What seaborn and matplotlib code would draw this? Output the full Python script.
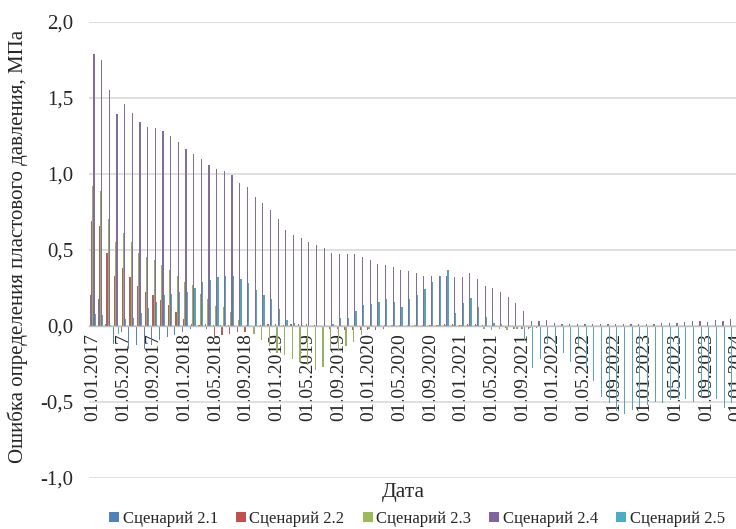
import matplotlib
matplotlib.use("Agg")
import matplotlib.pyplot as plt
from matplotlib.patches import Patch
import numpy as np
import pandas as pd
import seaborn as sns

# Monthly dates, 01.01.2017 .. 01.01.2024
dates = [d.strftime("%d.%m.%Y") for d in pd.date_range("2017-01-01", "2024-01-01", freq="MS")]

scenarios = ["Сценарий 2.1", "Сценарий 2.2", "Сценарий 2.3", "Сценарий 2.4", "Сценарий 2.5"]
colors = ["#4F81BD", "#C0504D", "#9BBB59", "#8064A2", "#4BACC6"]

# Pressure determination error, MPa
s21 = [0.20, 0.18, 0.015, -0.12, -0.04, -0.15, -0.125, -0.15, -0.125, -0.095,
       -0.07, -0.06, -0.04, -0.02, 0.0, 0.015, 0.005, 0.005, 0.003, 0.0,
       0.0, 0.0, 0.0, 0.0, 0.0, 0.0, 0.0, 0.0, 0.0, 0.0,
       0.0, 0.0, 0.0, 0.0, 0.0, 0.0, 0.0, 0.0, 0.0, 0.0,
       0.0, 0.0, 0.0, 0.0, 0.0, 0.0, 0.0, 0.0, 0.0, 0.0,
       0.0, 0.0, 0.0, 0.0, 0.0, 0.0, 0.0, 0.0, 0.0, 0.0,
       0.0, 0.0, 0.0, 0.0, 0.0, 0.0, 0.0, 0.0, 0.0, 0.0,
       0.0, 0.0, 0.0, 0.0, 0.0, 0.0, 0.0, 0.0, 0.0, 0.0,
       0.0, 0.0, 0.0, 0.0, 0.0]
s22 = [0.69, 0.66, 0.48, 0.33, 0.38, 0.32, 0.26, 0.22, 0.20, 0.17,
       0.14, 0.09, 0.045, 0.012, 0.005, -0.02, -0.08, -0.06, -0.05, -0.04,
       -0.04, -0.01, 0.005, 0.01, 0.01, 0.008, 0.01, 0.01, 0.01, 0.008,
       0.0, -0.02, -0.02, -0.03, -0.03, -0.025, -0.03, -0.03, -0.02, -0.01,
       0.0, 0.0, 0.0, 0.0, 0.005, 0.005, 0.01, 0.01, 0.008, 0.01,
       0.01, 0.005, 0.0, -0.01, -0.015, -0.02, -0.02, -0.02, -0.015, -0.01,
       0.0, 0.0, 0.0, 0.0, 0.0, 0.0, 0.0, 0.0, 0.0, 0.0,
       0.0, 0.0, 0.0, 0.0, 0.0, 0.0, 0.0, 0.0, 0.0, 0.0,
       0.0, 0.0, 0.0, 0.0, 0.0]
s23 = [0.92, 0.89, 0.70, 0.55, 0.61, 0.55, 0.48, 0.45, 0.43, 0.40,
       0.37, 0.33, 0.29, 0.27, 0.21, 0.18, 0.13, 0.125, 0.09, 0.04,
       0.005, -0.05, -0.09, -0.13, -0.18, -0.19, -0.22, -0.24, -0.26, -0.29,
       -0.27, -0.15, -0.16, -0.13, -0.105, -0.06, -0.02, -0.005, 0.003, 0.003,
       0.003, 0.003, 0.003, 0.003, 0.003, 0.003, 0.003, 0.003, 0.003, 0.003,
       0.003, -0.02, -0.03, -0.02, -0.03, -0.02, -0.02, -0.015, -0.01, 0.0,
       0.0, 0.0, 0.0, 0.0, 0.0, 0.0, 0.0, 0.0, 0.0, 0.0,
       0.0, 0.0, 0.0, 0.0, 0.0, 0.0, 0.0, 0.0, 0.0, 0.0,
       0.0, 0.0, 0.0, 0.0, 0.0]
s24 = [1.79, 1.75, 1.55, 1.39, 1.46, 1.40, 1.34, 1.31, 1.30, 1.28,
       1.25, 1.21, 1.16, 1.13, 1.10, 1.06, 1.03, 1.02, 0.99, 0.94,
       0.91, 0.85, 0.81, 0.76, 0.70, 0.63, 0.60, 0.58, 0.55, 0.53,
       0.51, 0.48, 0.47, 0.47, 0.47, 0.45, 0.43, 0.41, 0.40, 0.39,
       0.37, 0.36, 0.35, 0.33, 0.33, 0.33, 0.33, 0.32, 0.32, 0.35,
       0.31, 0.26, 0.25, 0.22, 0.19, 0.15, 0.10, 0.03, 0.03, 0.04,
       0.02, 0.01, 0.01, 0.01, 0.01, 0.01, 0.01, 0.01, 0.01, 0.01,
       0.012, 0.012, 0.015, 0.015, 0.018, 0.02, 0.02, 0.025, 0.03, 0.035,
       0.025, 0.04, 0.03, 0.045, 0.04]
s25 = [0.08, 0.07, 0.005, -0.05, 0.045, 0.055, 0.085, 0.115, 0.16, 0.20,
       0.21, 0.22, 0.22, 0.25, 0.29, 0.30, 0.32, 0.33, 0.33, 0.31,
       0.28, 0.235, 0.205, 0.175, 0.11, 0.04, 0.02, 0.005, 0.0, 0.0,
       0.0, 0.01, 0.055, 0.055, 0.10, 0.14, 0.145, 0.16, 0.18, 0.16,
       0.125, 0.18, 0.205, 0.24, 0.29, 0.33, 0.37, 0.085, 0.15, 0.185,
       0.125, 0.06, 0.02, 0.01, -0.01, -0.02, -0.09, -0.28, -0.22, -0.12,
       -0.14, -0.18, -0.24, -0.13, -0.28, -0.36, -0.47, -0.51, -0.56, -0.58,
       -0.55, -0.53, -0.52, -0.50, -0.51, -0.49, -0.48, -0.48, -0.50, -0.47,
       -0.46, -0.48, -0.54, -0.51, -0.50]

yticks = [-1.0, -0.5, 0.0, 0.5, 1.0, 1.5, 2.0]
ytick_labels = ["-1,0", "-0,5", "0,0", "0,5", "1,0", "1,5", "2,0"]

df = pd.DataFrame({
    "Дата": dates * 5,
    "value": s21 + s22 + s23 + s24 + s25,
    "scenario": np.repeat(scenarios, len(dates)),
})

sns.set_theme(style="white")
plt.rcParams["font.family"] = ["Liberation Serif", "DejaVu Serif"]

fig = plt.figure(figsize=(7.36, 5.29), dpi=100)
ax = fig.add_axes([89 / 736, 51 / 529, 652 / 736, 456.3 / 529])

sns.barplot(data=df, x="Дата", y="value", hue="scenario", order=dates,
            hue_order=scenarios, palette=colors, width=0.77, linewidth=0,
            errorbar=None, legend=False, ax=ax)

# Category axis sits on the zero line
for side in ["left", "top", "right"]:
    ax.spines[side].set_visible(False)
ax.spines["bottom"].set_position(("data", 0))
ax.spines["bottom"].set_color("#BFBFBF")
ax.spines["bottom"].set_linewidth(1.0)

ax.set_xlim(-0.5, len(dates) - 0.5)
ax.set_ylim(-1.0, 2.0)
ax.set_yticks(yticks)
ax.set_yticklabels(ytick_labels)
tick_pos = list(range(0, len(dates), 4))
ax.set_xticks(tick_pos)
ax.set_xticklabels([dates[i] for i in tick_pos])
ax.tick_params(axis="x", length=0, pad=5, labelrotation=90, labelsize=14)
ax.tick_params(axis="y", length=0, pad=11.5, labelsize=15)

ax.yaxis.grid(True, color="#D9D9D9", linewidth=1.2)
ax.set_axisbelow(True)
ax.set_xlabel("")
ax.set_ylabel("")

fig.text(18 / 736, 1 - 246 / 529, "Ошибка определения пластового давления, МПа",
         rotation=90, ha="center", va="center", fontsize=15)
fig.text(403 / 736, 1 - 492 / 529, "Дата", ha="center", va="center", fontsize=15.5)

handles = [Patch(facecolor=c, edgecolor="none") for c in colors]
fig.legend(handles, scenarios, loc="center", bbox_to_anchor=(417 / 736, 1 - 519 / 529),
           ncol=5, frameon=False, fontsize=12, handlelength=0.6, handleheight=0.6,
           handletextpad=0.2, columnspacing=1.1, borderaxespad=0)

fig.savefig("out.png", dpi=100)
